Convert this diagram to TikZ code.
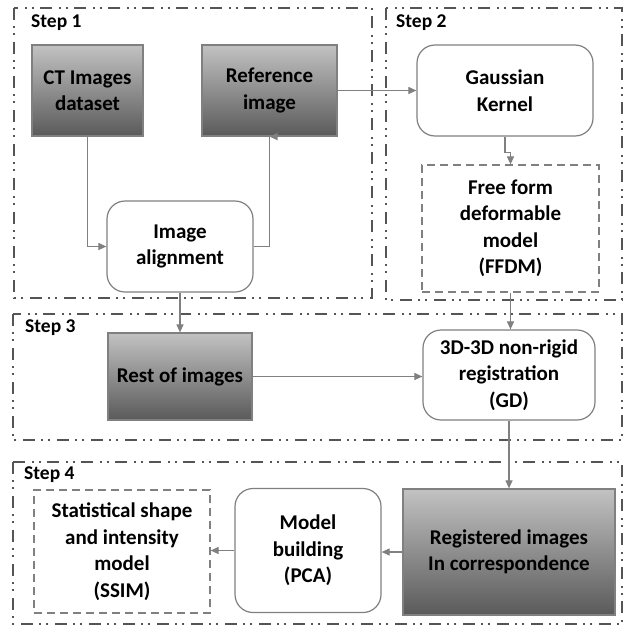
\documentclass[tikz,border=0pt]{standalone}
\usepackage{fontspec}
\setmainfont{Carlito}
\usetikzlibrary{arrows.meta}
\definecolor{edgegray}{HTML}{808080}
\definecolor{framegray}{HTML}{555555}
\definecolor{topgray}{HTML}{C2C2C2}
\definecolor{botgray}{HTML}{5A5A5A}
\begin{document}
\begin{tikzpicture}[x=1pt,y=-1pt,
  frame/.style={draw=framegray, line width=2.2pt,
    dash pattern=on 12pt off 6pt on 2pt off 5pt on 2pt off 7pt},
  box/.style={draw=edgegray, line width=1.2pt, align=center,
    font=\fontsize{21}{26.5}\selectfont\bfseries, text=black, inner sep=0pt},
  shadebox/.style={box, top color=topgray, bottom color=botgray},
  roundbox/.style={box, fill=white, rounded corners=18pt},
  dashbox/.style={box, fill=white, dash pattern=on 8pt off 5pt},
  steplabel/.style={font=\fontsize{19.5}{22}\selectfont\bfseries, anchor=north west, inner sep=0pt},
  arr/.style={draw=edgegray, line width=1.1pt, -{Triangle[length=8pt,width=7pt]}}
]
\useasboundingbox (0,0) rectangle (631,627);
\fill[white] (0,0) rectangle (631,627);

% frames
\draw[frame] (14,8) rectangle (372,298);
\draw[frame] (386,8) rectangle (622,300);
\draw[frame] (13,314) rectangle (622,440);
\draw[frame] (13,462) rectangle (622,624);

\node[steplabel] (s1) at (31,15) {Step 1};
\node[steplabel] (s2) at (396,15) {Step 2};
\node[steplabel] (s3) at (25,320) {Step 3};
\node[steplabel] (s4) at (24,467) {Step 4};

% nodes
\node[shadebox, minimum width=111pt, minimum height=91pt] (ct) at (87.5,90.5) {CT Images\\dataset};
\node[shadebox, minimum width=135pt, minimum height=91pt] (ref) at (269.5,90.5) {Reference\\image};
\node[roundbox, minimum width=146pt, minimum height=91pt] (align) at (180,246.5) {Image\\alignment};
\node[roundbox, minimum width=176pt, minimum height=91pt] (gauss) at (505,90.5) {Gaussian\\Kernel};
\node[dashbox, minimum width=177pt, minimum height=127pt] (ffdm) at (510.5,228.5) {Free form\\deformable\\model\\(FFDM)};
\node[shadebox, minimum width=144pt, minimum height=87pt] (rest) at (180,376.5) {Rest of images};
\node[roundbox, minimum width=172pt, minimum height=90pt] (reg) at (509,375) {3D-3D non-rigid\\registration\\(GD)};
\node[shadebox, minimum width=212pt, minimum height=126pt] (corr) at (509,552) {Registered images\\In correspondence};
\node[roundbox, minimum width=146pt, minimum height=124pt] (pca) at (308,550.5) {Model\\building\\(PCA)};
\node[dashbox, minimum width=176pt, minimum height=123pt] (ssim) at (122,551.5) {Statistical shape\\and intensity\\model\\(SSIM)};

% connectors
\draw[arr] (ct.south) |- (align.west);
\draw[arr] (align.east) -| ([xshift=16pt]align.east |- ref.south) -- (ref.south);
\draw[arr] (ref.east) -- (ref.east -| gauss.west);
\coordinate (g1) at ([yshift=-16pt]gauss.south);
\draw[arr] (gauss.south) -- (g1) -- (g1 -| ffdm.north) -- (ffdm.north);
\draw[arr] (align.south) -- (align.south |- rest.north);
\draw[arr] (ffdm.south) -- (ffdm.south |- reg.north);
\draw[arr] (rest.east) -- (rest.east -| reg.west);
\draw[arr] (reg.south) -- (reg.south |- corr.north);
\draw[arr] (corr.west) -- (corr.west -| pca.east);
\draw[arr] (pca.west) -- (pca.west -| ssim.east);
\end{tikzpicture}
\end{document}
